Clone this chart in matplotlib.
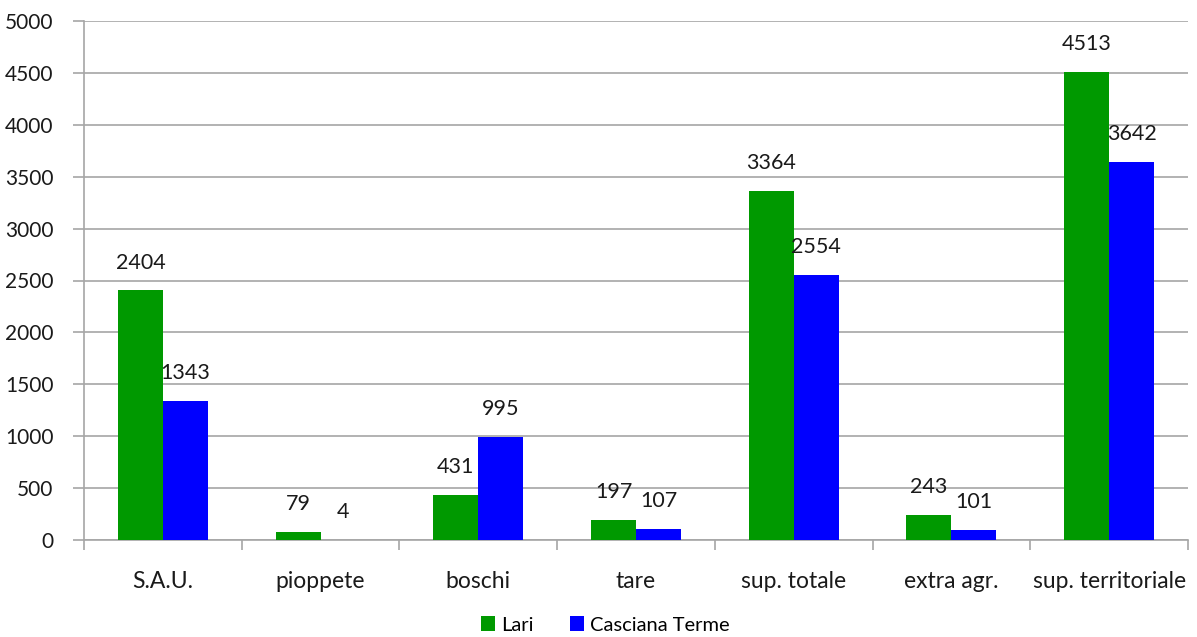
import matplotlib.pyplot as plt
import numpy as np

plt.rcParams['font.family'] = ['Lato', 'DejaVu Sans']

categorie = ["S.A.U.", "pioppete", "boschi", "tare", "sup. totale", "extra agr.", "sup. territoriale"]
lari = [2404, 79, 431, 197, 3364, 243, 4513]
casciana = [1343, 4, 995, 107, 2554, 101, 3642]

GREEN = '#009900'
BLUE = '#0000ff'
GRID = '#a6a6a6'

fig = plt.figure(figsize=(11.97, 6.37), dpi=100)
ax = fig.add_axes([84/1197, 1 - 540/637, (1188 - 84)/1197, (540 - 21)/637])

x = np.arange(len(categorie))
w = 0.285
b1 = ax.bar(x - w/2, lari, w, color=GREEN, label='Lari', zorder=3)
b2 = ax.bar(x + w/2, casciana, w, color=BLUE, label='Casciana Terme', zorder=3)

for bars in (b1, b2):
    for r in bars:
        ax.annotate(str(int(r.get_height())), (r.get_x() + r.get_width()/2, r.get_height()),
                    xytext=(0, 20), textcoords='offset points', ha='center', va='center',
                    fontsize=15.5, color='#1a1a1a')

ax.set_xlim(-0.5, len(categorie) - 0.5)
ax.set_ylim(0, 5000)
ax.set_yticks(np.arange(0, 5001, 500))
ax.yaxis.grid(True, color=GRID, linewidth=1.2, zorder=0)
ax.set_axisbelow(True)

ax.set_xticks(x)
ax.set_xticklabels(categorie, fontsize=16.5, color='#1a1a1a')
ax.set_xticks(np.arange(-0.5, len(categorie)), minor=True)
ax.tick_params(axis='x', which='major', length=0, pad=22)
ax.tick_params(axis='x', which='minor', length=7, color=GRID, width=1.2)
ax.tick_params(axis='y', length=8, color=GRID, width=1.2, labelsize=15, labelcolor='#1a1a1a', pad=14)

for s in ['top', 'right']:
    ax.spines[s].set_visible(False)
for s in ['left', 'bottom']:
    ax.spines[s].set_color(GRID)
    ax.spines[s].set_linewidth(1.2)

fig.legend(handles=[b1, b2], loc='center', bbox_to_anchor=(605/1197, 1 - 625/637), ncol=2,
           frameon=False, fontsize=14.5, handlelength=0.7, handleheight=0.7, handletextpad=0.3,
           columnspacing=1.8)

fig.savefig('out.png', dpi=100)
